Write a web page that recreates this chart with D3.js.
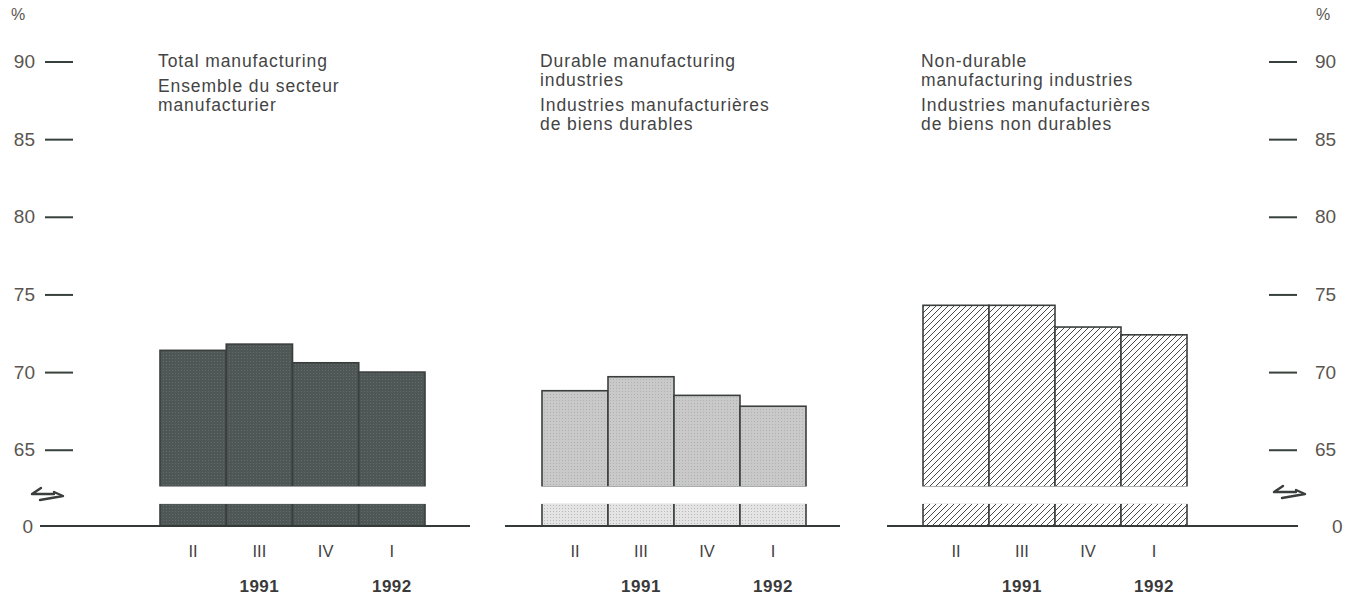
<!DOCTYPE html>
<html>
<head>
<meta charset="utf-8">
<script src="https://cdn.jsdelivr.net/npm/d3@7"></script>
<style>
  html, body { margin: 0; padding: 0; background: #ffffff; }
  svg { display: block; }
  text { font-family: "Liberation Sans", Arial, Helvetica, sans-serif; }
</style>
</head>
<body>
<svg id="chart" width="1352" height="596"></svg>
<script>
// ---------- data ----------
const quarters = ["II", "III", "IV", "I"];
const yearLabels = ["1991", "1992"];
const yearAtQuarter = ["III", "I"];
const totalManufacturing = [71.4, 71.8, 70.6, 70.0];
const durableIndustries = [68.8, 69.7, 68.5, 67.8];
const nonDurableIndustries = [74.3, 74.3, 72.9, 72.4];
const axisTicks = [0, 65, 70, 75, 80, 85, 90];
const titleTotal = [["Total manufacturing"], ["Ensemble du secteur", "manufacturier"]];
const titleDurable = [["Durable manufacturing", "industries"], ["Industries manufacturières", "de biens durables"]];
const titleNonDurable = [["Non-durable", "manufacturing industries"], ["Industries manufacturières", "de biens non durables"]];

// ---------- setup ----------
const svg = d3.select("#chart");
const W = 1352, H = 596;
svg.append("rect").attr("width", W).attr("height", H).attr("fill", "#ffffff");

// broken scale: 0 at baseline, break between 62.4 and 62.6
const breakLo = 62.4, breakHi = 62.6;
const y = d3.scaleLinear()
  .domain([0, breakLo, breakHi, 90])
  .range([526, 503, 487, 61.5]);

// patterns
const defs = svg.append("defs");
function dotPattern(id, bg, dot) {
  const p = defs.append("pattern").attr("id", id).attr("patternUnits", "userSpaceOnUse")
    .attr("width", 3).attr("height", 3);
  p.append("rect").attr("width", 3).attr("height", 3).attr("fill", bg);
  p.append("rect").attr("x", 1).attr("y", 1).attr("width", 1).attr("height", 1).attr("fill", dot);
}
dotPattern("darkDots", "#4e5755", "#646c6a");
dotPattern("lightDots", "#c9c9c9", "#b0b0b0");
dotPattern("paleDots", "#e4e4e4", "#b8b8b8");
const hatch = defs.append("pattern").attr("id", "hatch").attr("patternUnits", "userSpaceOnUse")
  .attr("width", 6).attr("height", 6);
hatch.append("rect").attr("width", 6).attr("height", 6).attr("fill", "#ffffff");
hatch.append("path").attr("d", "M-1,1 l2,-2 M0,6 l6,-6 M5,7 l2,-2")
  .attr("stroke", "#4a4a4a").attr("stroke-width", 1);

const panels = [
  { data: totalManufacturing, title: titleTotal, bars: [160, 425], base: [40, 470], tx: 158,
    upFill: "url(#darkDots)", lowFill: "url(#darkDots)" },
  { data: durableIndustries, title: titleDurable, bars: [542, 806], base: [505, 840], tx: 540,
    upFill: "url(#lightDots)", lowFill: "url(#paleDots)" },
  { data: nonDurableIndustries, title: titleNonDurable, bars: [923, 1187], base: [887, 1298], tx: 921,
    upFill: "url(#hatch)", lowFill: "url(#hatch)" }
];

const textColor = "#444444";
const barStroke = "#3a3f3d";

panels.forEach(p => {
  const x = d3.scaleBand().domain(quarters).range(p.bars).padding(0);
  const g = svg.append("g");
  const rows = quarters.map((q, i) => ({ q, v: p.data[i] }));

  // upper part of bars
  g.selectAll("rect.up").data(rows).join("rect").attr("class", "up")
    .attr("x", d => x(d.q)).attr("width", x.bandwidth())
    .attr("y", d => y(d.v)).attr("height", d => y(breakHi) - y(d.v))
    .attr("fill", p.upFill).attr("stroke", barStroke).attr("stroke-width", 1.6);
  // lower part of bars (below the break)
  g.selectAll("rect.low").data(rows).join("rect").attr("class", "low")
    .attr("x", d => x(d.q)).attr("width", x.bandwidth())
    .attr("y", y(breakLo)).attr("height", y(0) - y(breakLo))
    .attr("fill", p.lowFill).attr("stroke", barStroke).attr("stroke-width", 1.6);
  // white break band hides the horizontal edges at the cut
  g.append("rect")
    .attr("x", p.bars[0] - 2).attr("width", p.bars[1] - p.bars[0] + 4)
    .attr("y", y(breakHi) - 0.5).attr("height", y(breakLo) - y(breakHi) + 1.4)
    .attr("fill", "#ffffff");

  // baseline
  g.append("line").attr("x1", p.base[0]).attr("x2", p.base[1])
    .attr("y1", y(0)).attr("y2", y(0))
    .attr("stroke", "#333a38").attr("stroke-width", 2);

  // quarter labels
  g.selectAll("text.q").data(quarters).join("text").attr("class", "q")
    .attr("x", d => x(d) + x.bandwidth() / 2).attr("y", 557)
    .attr("text-anchor", "middle").attr("font-size", 16.5).attr("fill", textColor)
    .text(d => d);

  // year labels
  g.selectAll("text.yr").data(yearLabels).join("text").attr("class", "yr")
    .attr("x", (d, i) => x(yearAtQuarter[i]) + x.bandwidth() / 2).attr("y", 592)
    .attr("text-anchor", "middle").attr("font-size", 17).attr("font-weight", "bold")
    .attr("fill", "#3a3a3a").attr("letter-spacing", 0.5)
    .text(d => d);

  // titles
  let yy = 67;
  p.title.forEach((para, pi) => {
    if (pi > 0) yy += 25;
    para.forEach((line, li) => {
      if (li > 0) yy += 19;
      g.append("text").attr("x", p.tx).attr("y", yy)
        .attr("font-size", 17.5).attr("letter-spacing", 0.9).attr("fill", textColor)
        .text(line);
    });
  });
});

// ---------- axes ----------
function styleAxis(sel) {
  sel.select(".domain").remove();
  sel.selectAll(".tick line").attr("stroke", "#37413b").attr("stroke-width", 2);
  sel.selectAll(".tick text").attr("font-size", 19).attr("fill", "#5a5550")
    .attr("font-family", "\"Liberation Sans\", Arial, sans-serif");
}
const leftAxis = svg.append("g").attr("transform", "translate(73,0)")
  .call(d3.axisLeft(y).tickValues(axisTicks).tickSize(28).tickPadding(10).tickFormat(d3.format("d")));
styleAxis(leftAxis);
leftAxis.selectAll(".tick").filter(d => d === 0).select("line").remove();
leftAxis.selectAll(".tick").filter(d => d === 0).select("text").attr("x", -40);

const rightAxis = svg.append("g").attr("transform", "translate(1269,0)")
  .call(d3.axisRight(y).tickValues(axisTicks).tickSize(28).tickPadding(18).tickFormat(d3.format("d")));
styleAxis(rightAxis);
rightAxis.selectAll(".tick").filter(d => d === 0).select("line").remove();
rightAxis.selectAll(".tick").filter(d => d === 0).select("text").attr("x", 63);

// % units
svg.append("text").attr("x", 11).attr("y", 20).attr("font-size", 16).attr("fill", "#5a5550").text("%");
svg.append("text").attr("x", 1316).attr("y", 20).attr("font-size", 16).attr("fill", "#5a5550").text("%");

// break symbols
function breakMark(cx, cy) {
  svg.append("path")
    .attr("transform", `translate(${cx},${cy})`)
    .attr("d", "M-7,-7 L-16,-1 L6,-1 M-8,5 L15,1 L6,-3")
    .attr("fill", "none").attr("stroke", "#3a3f3d").attr("stroke-width", 2.4)
    .attr("stroke-linejoin", "round").attr("stroke-linecap", "round");
}
breakMark(48, 495);
breakMark(1290, 493);
</script>
</body>
</html>
